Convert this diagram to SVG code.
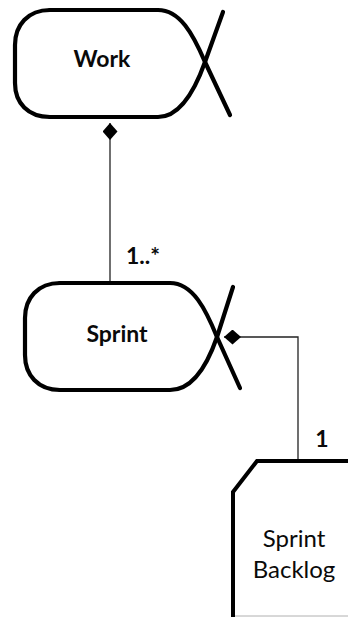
<svg xmlns="http://www.w3.org/2000/svg" width="348" height="617" viewBox="0 0 348 617">
<style>
.shape{fill:none;stroke:#000;stroke-width:4.2;stroke-linecap:round;stroke-linejoin:round}
.conn{fill:none;stroke:#222;stroke-width:1.3}
.lbl{font-family:Lato,"Open Sans","Liberation Sans",sans-serif;font-size:23px;fill:#0a0a0a;text-anchor:middle}
.b{font-weight:bold}
.r{font-size:24px}
</style>
<defs>
<marker id="diamond" viewBox="0 0 17 15" refX="0" refY="7.5" markerWidth="17" markerHeight="15" markerUnits="userSpaceOnUse" orient="auto">
<path d="M0,7.5 L8.5,0 L17,7.5 L8.5,15 Z" fill="#000"/>
</marker>
</defs>
<rect width="348" height="617" fill="#fff"/>
<g id="connectors">
<path class="conn" d="M110,123 L110,283" marker-start="url(#diamond)"/>
<path class="conn" d="M224,337 L298,337 L298,461" marker-start="url(#diamond)"/>
</g>
<g id="work">
<path class="shape" d="M50,10 L158,10 C180,10 193,34 205,62 L230,115"/>
<path class="shape" d="M50,117 L158,117 C180,117 195,90 205,62 L223,12"/>
<path class="shape" d="M50,10 C28,10 15,25 15,45 L15,83 C15,103 28,117 50,117"/>
<text class="lbl b" x="102" y="67">Work</text>
</g>
<g id="sprint">
<path class="shape" d="M60,283 L170,283 C193,283 206,310 217,337 L240,388"/>
<path class="shape" d="M60,390 L170,390 C193,390 208,363 217,337 L233,287"/>
<path class="shape" d="M60,283 C38,283 25,298 25,318 L25,355 C25,375 38,390 60,390"/>
<text class="lbl b" x="117" y="342">Sprint</text>
</g>
<g id="labels">
<text class="lbl b" x="143" y="264">1..*</text>
<text class="lbl b" x="322" y="447">1</text>
</g>
<g id="sprint-backlog">
<path d="M233,616 L348,616" stroke="#b0b0b0" stroke-width="1" fill="none"/>
<path d="M350,461 L257,461 L233,492 L233,619" fill="none" stroke="#000" stroke-width="4" stroke-linejoin="miter"/>
<text class="lbl r" x="294" y="547">Sprint</text>
<text class="lbl r" x="294" y="578">Backlog</text>
</g>
</svg>
